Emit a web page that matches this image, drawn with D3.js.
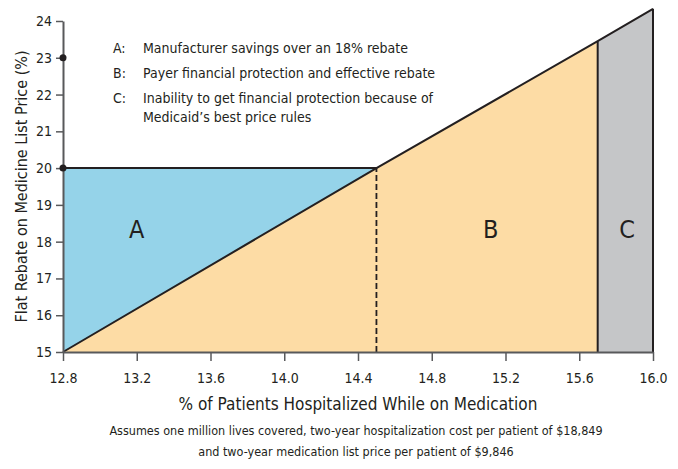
<!DOCTYPE html>
<html>
<head>
<meta charset="utf-8">
<script src="https://cdn.jsdelivr.net/npm/d3@7"></script>
<style>
  body { margin: 0; background: #fff; }
  svg text { font-family: "Liberation Sans Narrow", "DejaVu Sans Condensed", sans-serif; fill: #231f20; }
</style>
</head>
<body>
<div id="chart"></div>
<script>
// ticks
var xTicks = [12.8, 13.2, 13.6, 14.0, 14.4, 14.8, 15.2, 15.6, 16.0];
var yTicks = [15, 16, 17, 18, 19, 20, 21, 22, 23, 24];

// the rising rebate line (x = % hospitalized, y = rebate %)
var lineX = [12.8, 14.5, 15.7, 16.0];
var lineY = [15, 20, 23.45, 24.33];

// flat rebate and split points
var flatRebate = 20;
var crossX = 14.5;
var bestPriceX = 15.7;
var markedY = [20, 23];

var regionNames = ["A", "B", "C"];
var regionLabelX = [13.2, 15.12, 15.86];
var regionLabelY = [18.1, 18.1, 18.1];
var regionColors = ["#95d3e9", "#fddca5", "#c5c6c8"];

var legendKeys = ["A:", "B:", "C:"];
var legendText = [
  ["Manufacturer savings over an 18% rebate"],
  ["Payer financial protection and effective rebate"],
  ["Inability to get financial protection because of", "Medicaid\u2019s best price rules"]
];

var W = 678, H = 469;
var margin = {top: 21, right: 25, bottom: 117, left: 63};
var width = W - margin.left - margin.right,
    height = H - margin.top - margin.bottom;

var svg = d3.select("#chart").append("svg")
  .attr("width", W).attr("height", H)
  .append("g")
  .attr("transform", "translate(" + margin.left + "," + margin.top + ")");

var x = d3.scaleLinear().domain([12.8, 16.0]).range([0, width]);
var y = d3.scaleLinear().domain([15, 24]).range([height, 0]);

var pts = lineX.map(function(d, i) { return [d, lineY[i]]; });
// value of the line at some x
function lineAt(v) {
  for (var i = 1; i < pts.length; i++) {
    if (v <= pts[i][0]) {
      var t = (v - pts[i-1][0]) / (pts[i][0] - pts[i-1][0]);
      return pts[i-1][1] + t * (pts[i][1] - pts[i-1][1]);
    }
  }
  return pts[pts.length-1][1];
}

// region B: under the line up to best price point
var polyB = pts.filter(function(p) { return p[0] <= bestPriceX; });
polyB = polyB.concat([[bestPriceX, 15], [lineX[0], 15]]);
// region C
var polyC = [[bestPriceX, lineAt(bestPriceX)]]
  .concat(pts.filter(function(p) { return p[0] > bestPriceX; }))
  .concat([[lineX[lineX.length-1], 15], [bestPriceX, 15]]);
// region A: between flat rebate and the line
var polyA = [[lineX[0], 15], [lineX[0], flatRebate], [crossX, flatRebate]];

var area = d3.line().x(function(d) { return x(d[0]); }).y(function(d) { return y(d[1]); });

svg.append("path").attr("d", area(polyB) + "Z").attr("fill", regionColors[1]);
svg.append("path").attr("d", area(polyC) + "Z").attr("fill", regionColors[2]);
svg.append("path").attr("d", area(polyA) + "Z").attr("fill", regionColors[0]);

// flat rebate line
svg.append("line")
  .attr("x1", x(lineX[0])).attr("x2", x(crossX))
  .attr("y1", y(flatRebate)).attr("y2", y(flatRebate))
  .attr("stroke", "#231f20").attr("stroke-width", 2);

// dashed divider
svg.append("line")
  .attr("x1", x(crossX)).attr("x2", x(crossX))
  .attr("y1", y(15)).attr("y2", y(flatRebate))
  .attr("stroke", "#231f20").attr("stroke-width", 1.8)
  .attr("stroke-dasharray", "6,3");

// solid dividers
[bestPriceX, lineX[lineX.length-1]].forEach(function(v) {
  svg.append("line")
    .attr("x1", x(v)).attr("x2", x(v))
    .attr("y1", y(15)).attr("y2", y(lineAt(v)))
    .attr("stroke", "#231f20").attr("stroke-width", 2);
});

// the rising line
svg.append("path").attr("d", area(pts))
  .attr("fill", "none").attr("stroke", "#231f20").attr("stroke-width", 2);

// axes
var xAxis = svg.append("g")
  .attr("transform", "translate(0," + height + ")")
  .call(d3.axisBottom(x).tickValues(xTicks).tickFormat(d3.format(".1f")).tickSize(9).tickSizeOuter(0));
var yAxis = svg.append("g")
  .call(d3.axisLeft(y).tickValues(yTicks).tickSize(7).tickSizeOuter(0));

[xAxis, yAxis].forEach(function(a) {
  a.select(".domain").attr("stroke", "#58595b").attr("stroke-width", 2);
  a.selectAll(".tick line").attr("stroke", "#58595b").attr("stroke-width", 1.5);
  a.selectAll(".tick text").style("font-size", "14px").attr("fill", "#231f20");
});
xAxis.selectAll(".tick text").attr("dy", "1.35em");
yAxis.selectAll(".tick text").attr("x", -11);

// dots on the y axis
svg.selectAll(".dot").data(markedY).enter().append("circle")
  .attr("cx", x(lineX[0])).attr("cy", function(d) { return y(d); })
  .attr("r", 3.5).attr("fill", "#231f20");

// region letters
svg.selectAll(".reg").data(regionNames).enter().append("text")
  .attr("x", function(d, i) { return x(regionLabelX[i]); })
  .attr("y", function(d, i) { return y(regionLabelY[i]); })
  .attr("text-anchor", "middle")
  .style("font-size", "25px")
  .text(function(d) { return d; });

// legend
var lg = svg.append("g").attr("transform", "translate(50,32)");
var row = 0;
legendKeys.forEach(function(k, i) {
  lg.append("text").attr("x", 0).attr("y", row * 25).style("font-size", "14px").text(k);
  legendText[i].forEach(function(t, j) {
    lg.append("text").attr("x", 30).attr("y", row * 25 + j * 19)
      .style("font-size", "14px").text(t);
  });
  row++;
});

// axis titles
svg.append("text")
  .attr("x", width / 2).attr("y", height + 58)
  .attr("text-anchor", "middle").style("font-size", "17px")
  .text("% of Patients Hospitalized While on Medication");

svg.append("text")
  .attr("transform", "translate(-36," + (height / 2) + ") rotate(-90)")
  .attr("text-anchor", "middle").style("font-size", "16px")
  .text("Flat Rebate on Medicine List Price (%)");

// footnote
var foot = ["Assumes one million lives covered, two-year hospitalization cost per patient of $18,849",
            "and two-year medication list price per patient of $9,846"];
svg.selectAll(".foot").data(foot).enter().append("text")
  .attr("x", width / 2 - 2).attr("y", function(d, i) { return height + 83 + i * 21; })
  .attr("text-anchor", "middle").style("font-size", "12.5px")
  .text(function(d) { return d; });
</script>
</body>
</html>
